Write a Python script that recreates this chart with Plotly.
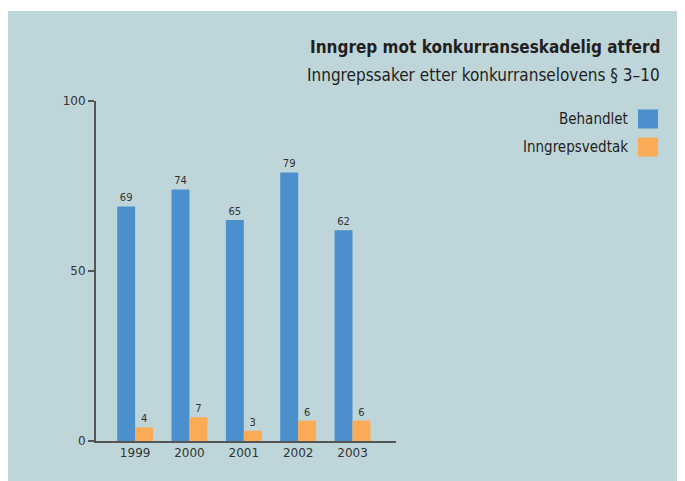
import plotly.graph_objects as go

years = ["1999", "2000", "2001", "2002", "2003"]
behandlet = [69, 74, 65, 79, 62]
vedtak = [4, 7, 3, 6, 6]
series_names = ["Behandlet", "Inngrepsvedtak"]
colors = ["#4B8FCD", "#FBAA55"]
bg = "#BED6DA"

OFF = 8  # page body margin
NARROW = "Liberation Sans Narrow, DejaVu Sans Condensed, Roboto Condensed, Open Sans, sans-serif"

x = list(range(len(years)))

fig = go.Figure()
for vals, name, col in zip([behandlet, vedtak], series_names, colors):
    fig.add_trace(go.Bar(
        x=x, y=vals, name=name, marker=dict(color=col, line=dict(width=0)),
        text=vals, textposition="outside", cliponaxis=False,
        textfont=dict(family="DejaVu Sans", size=10, color="#333333"),
        showlegend=False,
    ))

L, R, T, B = 96 - OFF, 396 - OFF, 101 - OFF, 441 - OFF
W, H = 685, 481
PW, PH = R - L, B - T

def px_x(p):
    return (p - OFF - L) / PW

def px_y(p):
    return (B - (p - OFF)) / PH

fig.update_layout(
    width=W, height=H,
    paper_bgcolor="white", plot_bgcolor="rgba(0,0,0,0)",
    margin=dict(l=L, r=W - R, t=T, b=H - B),
    barmode="group", bargap=0.34, bargroupgap=0,
    font=dict(family="DejaVu Sans", color="#333333"),
    shapes=[
        dict(type="rect", xref="paper", yref="paper", layer="below",
             x0=px_x(8), x1=px_x(700), y0=px_y(500), y1=px_y(11),
             fillcolor=bg, line=dict(width=0)),
    ],
)

fig.update_xaxes(
    range=[-0.72, 4.8], tickvals=x, ticktext=years,
    showgrid=False, zeroline=False, showline=True, linecolor="#555555", linewidth=2,
    ticks="", tickfont=dict(size=12, color="#333333"),
)
fig.update_yaxes(
    range=[0, 100], tickvals=[0, 50, 100],
    showgrid=False, zeroline=False, showline=True, linecolor="#555555", linewidth=2,
    ticks="outside", ticklen=6, tickwidth=1.5, tickcolor="#555555",
    tickfont=dict(size=12, color="#333333"),
)

fig.add_annotation(xref="paper", yref="paper", x=px_x(662), y=px_y(47),
                   xanchor="right", yanchor="middle", showarrow=False,
                   text="<b>Inngrep mot konkurranseskadelig atferd</b>",
                   font=dict(family=NARROW, size=17, color="#231F20"))
fig.add_annotation(xref="paper", yref="paper", x=px_x(662), y=px_y(75),
                   xanchor="right", yanchor="middle", showarrow=False,
                   text="Inngrepssaker etter konkurranselovens § 3–10",
                   font=dict(family=NARROW, size=17, color="#231F20"))

leg_y = [119, 147]
for name, col, yy in zip(series_names, colors, leg_y):
    fig.add_shape(type="rect", xref="paper", yref="paper",
                  x0=px_x(638), x1=px_x(658), y0=px_y(yy + 9.5), y1=px_y(yy - 9.5),
                  fillcolor=col, line=dict(width=0))
    fig.add_annotation(xref="paper", yref="paper", x=px_x(630), y=px_y(yy),
                       xanchor="right", yanchor="middle", showarrow=False,
                       text=name,
                       font=dict(family=NARROW, size=15, color="#231F20"))

fig.write_html("out.html")
